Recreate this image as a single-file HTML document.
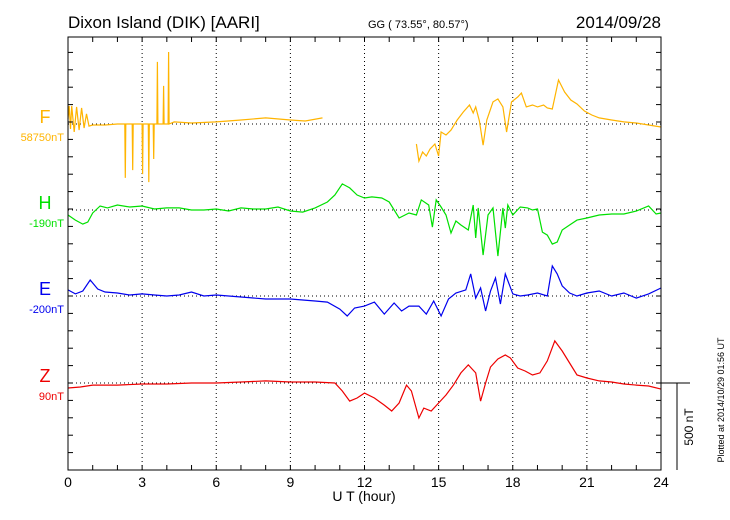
<!DOCTYPE html>
<html><head><meta charset="utf-8"><style>
body{margin:0;background:#fff}
svg{display:block;font-family:"Liberation Sans",sans-serif}
</style></head><body>
<svg id="c" width="730" height="520" viewBox="0 0 730 520">
<text x="68" y="28" font-size="17">Dixon Island (DIK)  [AARI]</text>
<text x="368" y="28" font-size="11">GG ( 73.55°,  80.57°)</text>
<text x="661" y="28" font-size="17" text-anchor="end">2014/09/28</text>
<g id="grid"></g>
<g id="series"></g>
<rect x="68" y="37" width="593" height="433" fill="none" stroke="#000" stroke-width="1"/>
<g id="ticks"></g>
<text x="364" y="501" font-size="14" text-anchor="middle">U T (hour)</text>
<line x1="661" y1="383" x2="690" y2="383" stroke="#000"/>
<line x1="677" y1="383" x2="677" y2="470" stroke="#000"/>
<text transform="translate(693,427) rotate(-90)" font-size="12" text-anchor="middle">500 nT</text>
<text transform="translate(724,400) rotate(-90)" font-size="9" text-anchor="middle">Plotted at 2014/10/29 01:56 UT</text>
</svg>
<script>
const xTicks=[0,3,6,9,12,15,18,21,24];
const fT=[0,0.05,0.1,0.15,0.25,0.35,0.45,0.55,0.65,0.75,0.85,1.0,1.5,2.0,2.3,2.32,2.34,2.6,2.62,2.64,3.0,3.02,3.04,3.25,3.27,3.29,3.45,3.47,3.49,3.6,3.62,3.64,3.85,3.87,3.89,4.05,4.07,4.09,4.3,5,6,7,8,9,9.6,10.3,12,14.1,14.2,14.35,14.5,14.65,14.85,15.0,15.1,15.3,15.5,15.75,16.0,16.25,16.4,16.5,16.65,16.8,16.95,17.2,17.4,17.6,17.75,17.95,18.2,18.35,18.55,18.8,19.0,19.25,19.4,19.6,19.85,20.1,20.35,20.6,20.9,21.2,21.5,22,22.5,23,23.5,24];
const fV=[29,104,-29,104,-46,98,-35,92,-23,58,-12,-6,-6,0,0,-310,0,0,-265,0,0,-288,0,0,-334,0,0,-201,0,0,357,0,0,219,0,0,414,0,12,6,12,23,35,23,17,35,null,-115,-213,-161,-184,-144,-115,-184,-46,-63,-35,23,69,109,63,98,17,-121,23,127,144,98,-46,127,155,178,98,109,98,109,92,86,253,184,138,115,75,52,35,23,12,6,-6,-17];
const hT=[0,0.3,0.6,0.8,1.0,1.3,1.6,2,2.5,3,3.5,4,4.5,5,5.5,6,6.5,7,7.5,8,8.5,9,9.5,10,10.5,10.8,11.1,11.4,11.7,12,12.3,12.7,13,13.4,13.8,14.1,14.3,14.6,14.75,14.9,15.1,15.3,15.5,15.7,15.9,16.2,16.4,16.5,16.6,16.8,17,17.2,17.4,17.6,17.7,17.8,18,18.3,18.6,18.8,19,19.2,19.4,19.6,19.8,20,20.3,20.6,21,21.5,22,22.5,23,23.5,23.8,24];
const hV=[-29,-58,-81,-69,-17,23,12,29,17,23,6,12,12,0,0,6,-6,12,6,6,17,-6,-12,12,46,86,150,127,86,69,75,69,46,-46,-17,-29,58,29,-98,58,17,-29,-132,-63,-86,-115,29,-161,12,-259,-29,12,-265,12,-104,29,-29,17,12,0,6,-127,-144,-196,-184,-115,-86,-58,-46,-29,-23,-23,-6,23,-23,-17];
const eT=[0,0.3,0.6,0.9,1.2,1.5,2,2.5,3,3.5,4,4.5,5,5.5,6,7,8,9,9.5,10,10.5,11,11.3,11.6,12,12.4,12.8,13.2,13.5,13.8,14.2,14.5,14.8,15.1,15.4,15.7,16.1,16.3,16.5,16.7,16.9,17.1,17.3,17.5,17.7,18,18.3,18.6,19,19.4,19.6,19.8,20,20.3,20.6,21,21.5,22,22.5,23,23.5,24];
const eV=[35,12,29,92,40,23,17,6,12,6,0,6,23,0,6,-6,-17,-17,-23,-29,-35,-75,-115,-69,-58,-35,-104,-40,-86,-58,-58,-104,-29,-115,-17,17,35,127,-12,46,-86,29,104,-46,127,12,0,6,17,0,173,127,58,17,0,17,29,0,17,-12,12,46];
const zT=[0,0.5,1,2,3,4,5,6,7,8,9,10,10.8,11.1,11.4,11.7,12,12.4,12.8,13.1,13.4,13.7,13.9,14.2,14.4,14.7,15,15.3,15.6,15.9,16.2,16.5,16.7,16.9,17.1,17.4,17.7,17.9,18.2,18.5,18.8,19.1,19.4,19.7,20,20.3,20.6,21,21.5,22,22.5,23,23.5,24];
const zV=[-29,-23,-12,-12,-6,-6,0,0,6,12,6,6,0,-46,-104,-86,-58,-86,-127,-161,-115,-12,-46,-201,-144,-161,-115,-69,-12,58,104,58,-104,0,92,138,161,144,86,69,46,58,127,242,184,115,46,29,12,6,-6,-12,-17,-35];
const comps=[
 {n:'F',t:fT,v:fV,base:124,color:'#ffb400',lab:'58750nT'},
 {n:'H',t:hT,v:hV,base:210,color:'#00e000',lab:'-190nT'},
 {n:'E',t:eT,v:eV,base:296,color:'#0000ee',lab:'-200nT'},
 {n:'Z',t:zT,v:zV,base:383,color:'#ee0000',lab:'90nT'}];
const X0=68,X1=661,Y0=37,Y1=470,PXNT=87/500;
const xs=h=>X0+(X1-X0)*h/24;
const ys=(v,b)=>b-v*PXNT;
const NS='http://www.w3.org/2000/svg';
const mk=(p,tag,a)=>{const e=document.createElementNS(NS,tag);for(const k in a)e.setAttribute(k,a[k]);p.appendChild(e);return e;};
const grid=document.getElementById('grid'),ser=document.getElementById('series'),tk=document.getElementById('ticks'),svg=document.getElementById('c');
xTicks.forEach(h=>{
 if(h>0&&h<24){const l=mk(grid,'line',{x1:xs(h),y1:Y0,x2:xs(h),y2:Y1,stroke:'#000','stroke-dasharray':'1,3'});
 
 }
 const t=mk(svg,'text',{x:xs(h),y:487,'font-size':14,'text-anchor':'middle'});t.textContent=h;
 
 
});
for(let h=1;h<24;h++){
 mk(tk,'line',{x1:xs(h),y1:Y0,x2:xs(h),y2:Y0+5,stroke:'#000'});
 mk(tk,'line',{x1:xs(h),y1:Y1,x2:xs(h),y2:Y1-5,stroke:'#000'});
}
for(let y=Y1;y>Y0;y-=100*PXNT){
 mk(tk,'line',{x1:X0,y1:y,x2:X0+5,y2:y,stroke:'#000'});
 mk(tk,'line',{x1:X1,y1:y,x2:X1-5,y2:y,stroke:'#000'});
}
comps.forEach(c=>{
 const g=mk(grid,'line',{x1:X0,y1:c.base,x2:X1,y2:c.base,stroke:'#000','stroke-dasharray':'1,3'});
 
 
 let d='',pen=false;
 c.t.forEach((h,i)=>{const v=c.v[i];if(v===null){pen=false;return;}d+=(pen?'L':'M')+xs(h).toFixed(1)+','+ys(v,c.base).toFixed(1);pen=true;});
 const p=mk(ser,'path',{d:d,fill:'none',stroke:c.color,'stroke-width':1.2});
 
 
 const t1=mk(svg,'text',{x:45,y:c.base-1,'font-size':18,fill:c.color,'text-anchor':'middle'});t1.textContent=c.n;
 
 
 const t2=mk(svg,'text',{x:64,y:c.base+17,'font-size':11,fill:c.color,'text-anchor':'end'});t2.textContent=c.lab;
 
 
});
</script>
</body></html>
